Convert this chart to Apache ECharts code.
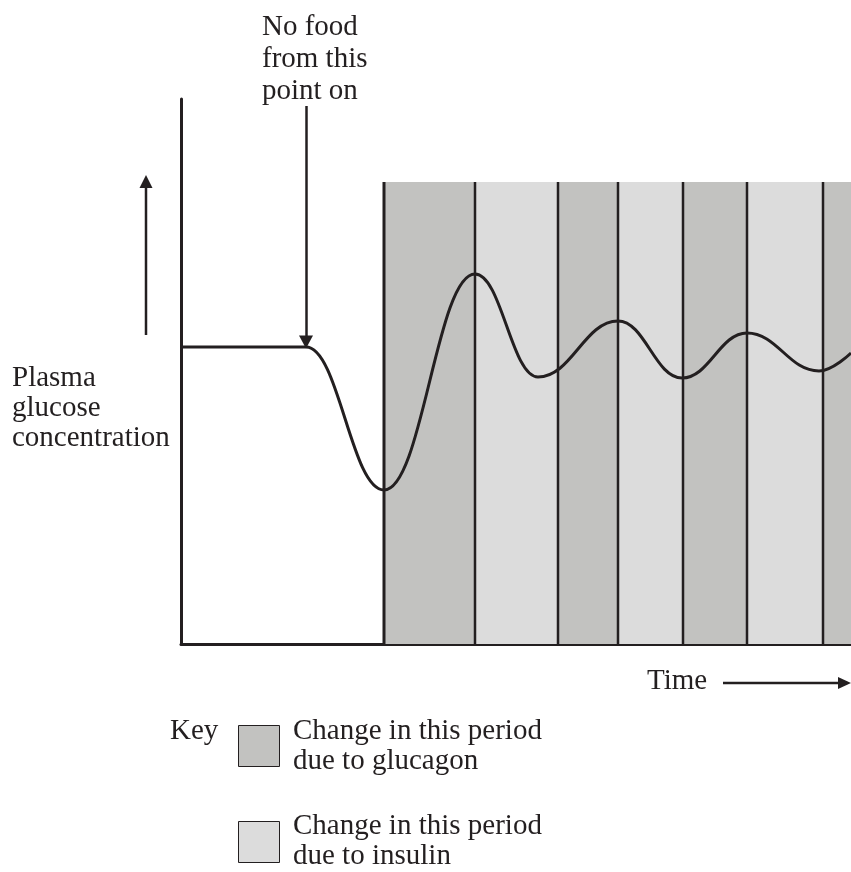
<!DOCTYPE html>
<html>
<head>
<meta charset="utf-8">
<script src="https://cdn.jsdelivr.net/npm/echarts@6/dist/echarts.min.js"></script>
<style>
  html, body { margin: 0; padding: 0; background: #fff; }
  #chart { width: 851px; height: 872px; }
</style>
</head>
<body>
<div id="chart"></div>
<script>
// time runs 0..67 (arbitrary units), glucose 0..54.5 (arbitrary units)
var timeMax = 67;
var glucoseMax = 54.5;
var bandTop = 46.2;

// shaded periods: [start, end, hormone]
var periodStart = [20.3, 29.4, 37.7, 43.7, 50.2, 56.6, 64.2];
var periodEnd   = [29.4, 37.7, 43.7, 50.2, 56.6, 64.2, 67.0];
var periodHormone = ['glucagon', 'insulin', 'glucagon', 'insulin', 'glucagon', 'insulin', 'glucagon'];

// plasma glucose curve: start, turning points and end
var curveTime    = [0,    12.5, 20.3, 29.4, 35.7, 43.7, 50.1, 56.6, 63.8, 67.0];
var curveGlucose = [29.7, 29.7, 15.4, 37.0, 26.7, 32.3, 26.6, 31.1, 27.3, 29.1];

// "no food" marker
var fastStart = 12.5;

var hormoneColor = { glucagon: '#c2c2c0', insulin: '#dcdcdc' };
var ink = '#231f20';
var serif = '"Liberation Serif", "Times New Roman", serif';

var bandData = periodStart.map(function (s, i) { return [s, periodEnd[i], i]; });
var curveData = curveTime.map(function (t, i) { return [t, curveGlucose[i]]; });

var chart = echarts.init(document.getElementById('chart'));

function txt(x, y, text, lh) {
    return {
        type: 'text', left: x, top: y, z: 10,
        style: { text: text, font: '29px ' + serif, fill: ink, lineHeight: lh || 30 }
    };
}

chart.setOption({
    animation: false,
    backgroundColor: '#ffffff',
    grid: { left: 181, right: 0, top: 99, bottom: 228 },
    xAxis: {
        type: 'value', min: 0, max: timeMax,
        axisLine: { show: true, lineStyle: { color: ink, width: 3 } },
        axisTick: { show: false }, axisLabel: { show: false }, splitLine: { show: false }
    },
    yAxis: {
        type: 'value', min: 0, max: glucoseMax,
        axisLine: { show: true, lineStyle: { color: ink, width: 3 } },
        axisTick: { show: false }, axisLabel: { show: false }, splitLine: { show: false }
    },
    series: [
        {
            type: 'custom',
            data: bandData,
            encode: { x: [0, 1] },
            z: 1,
            renderItem: function (params, api) {
                var p0 = api.coord([api.value(0), bandTop]);
                var p1 = api.coord([api.value(1), 0]);
                var kind = periodHormone[api.value(2)];
                return {
                    type: 'group',
                    children: [
                        { type: 'rect', shape: { x: p0[0], y: p0[1], width: p1[0] - p0[0], height: p1[1] - p0[1] },
                          style: { fill: hormoneColor[kind] } },
                        { type: 'line', shape: { x1: p0[0], y1: p0[1], x2: p0[0], y2: p1[1] },
                          style: { stroke: ink, lineWidth: api.value(2) === 0 ? 3 : 2.5 } }
                    ]
                };
            }
        },
        {
            type: 'line',
            data: curveData,
            smooth: 0.42,
            smoothMonotone: 'x',
            showSymbol: false,
            z: 3,
            lineStyle: { color: ink, width: 3 },
            markLine: {
                silent: true,
                symbol: ['none', 'triangle'],
                symbolSize: [14, 13],
                label: { show: false },
                lineStyle: { color: ink, width: 2.5, type: 'solid' },
                data: [[{ coord: [fastStart, 53.8] }, { coord: [fastStart, 30.2] }]]
            }
        }
    ],
    graphic: [
        // up arrow beside the y axis
        { type: 'line', shape: { x1: 146, y1: 335, x2: 146, y2: 185 }, style: { stroke: ink, lineWidth: 2.5 } },
        { type: 'polygon', shape: { points: [[139.5, 188], [152.5, 188], [146, 175]] }, style: { fill: ink } },
        // time arrow
        { type: 'line', shape: { x1: 723, y1: 683, x2: 842, y2: 683 }, style: { stroke: ink, lineWidth: 2.5 } },
        { type: 'polygon', shape: { points: [[838, 677], [838, 689], [851, 683]] }, style: { fill: ink } },
        txt(262, 11, 'No food\nfrom this\npoint on', 32),
        txt(12, 363, 'Plasma\nglucose\nconcentration', 30),
        txt(647, 666, 'Time'),
        txt(170, 716, 'Key'),
        { type: 'rect', shape: { x: 238.5, y: 725.5, width: 41, height: 41 },
          style: { fill: hormoneColor.glucagon, stroke: ink, lineWidth: 1 } },
        { type: 'rect', shape: { x: 238.5, y: 821.5, width: 41, height: 41 },
          style: { fill: hormoneColor.insulin, stroke: ink, lineWidth: 1 } },
        txt(293, 716, 'Change in this period\ndue to glucagon', 30),
        txt(293, 811, 'Change in this period\ndue to insulin', 30)
    ]
});
</script>
</body>
</html>
